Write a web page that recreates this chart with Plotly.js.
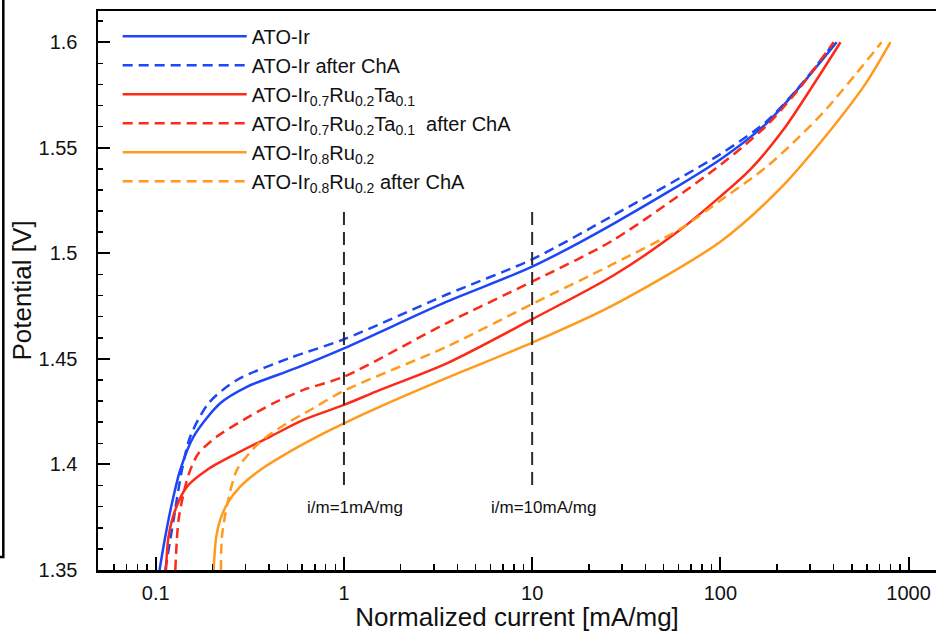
<!DOCTYPE html>
<html>
<head>
<meta charset="utf-8">
<script src="https://cdn.plot.ly/plotly-3.0.1.min.js"></script>
<style>html,body{margin:0;padding:0;background:#fff;}#chart{width:936px;height:632px;}</style>
</head>
<body>
<div id="chart"></div>
<script>
// Series names
const seriesNames = [
  "ATO-Ir",
  "ATO-Ir after ChA",
  "ATO-Ir<sub>0.7</sub>Ru<sub>0.2</sub>Ta<sub>0.1</sub>",
  "ATO-Ir<sub>0.7</sub>Ru<sub>0.2</sub>Ta<sub>0.1</sub> \u00a0after ChA",
  "ATO-Ir<sub>0.8</sub>Ru<sub>0.2</sub>",
  "ATO-Ir<sub>0.8</sub>Ru<sub>0.2</sub> after ChA"
];

// ATO-Ir
const irX = [0.1047,0.1123,0.1219,0.1349,0.1588,0.220,0.305,0.551,1.0,3.52,10,27,100,176,265,415];
const irY = [1.35,1.3658,1.3816,1.3974,1.4132,1.4290,1.4368,1.4455,1.4550,1.4771,1.4937,1.5140,1.5445,1.5616,1.5790,1.6000];
// ATO-Ir after ChA
const irChaX = [0.1123,0.1243,0.1377,0.1525,0.1907,0.270,0.518,1.0,3.52,10,27,100,176,265,405];
const irChaY = [1.35,1.3737,1.3974,1.4132,1.4290,1.4400,1.4505,1.4593,1.4805,1.4972,1.5180,1.5470,1.5625,1.5793,1.6];
// ATO-Ir0.7Ru0.2Ta0.1
const irRuTaX = [0.1133,0.1169,0.1269,0.1465,0.187,0.270,0.406,0.609,1.0,1.556,3.52,10,27,61,100,143.6,216,324,435];
const irRuTaY = [1.35,1.3658,1.3784,1.3895,1.3974,1.4053,1.4132,1.4211,1.4282,1.4353,1.4479,1.4688,1.4895,1.511,1.5269,1.5395,1.5585,1.5821,1.6];
// ATO-Ir0.7Ru0.2Ta0.1 after ChA
const irRuTaChaX = [0.127,0.1321,0.1434,0.1525,0.1688,0.2113,0.2925,0.4222,0.609,1.0,3.52,10,27,100,176,265,400];
const irRuTaChaY = [1.35,1.3737,1.3895,1.3974,1.4053,1.4132,1.4211,1.4290,1.4353,1.4416,1.467,1.4866,1.5063,1.5419,1.5605,1.5785,1.6];
// ATO-Ir0.8Ru0.2
const irRuX = [0.2028,0.2096,0.220,0.2405,0.281,0.359,0.518,0.778,1.0,1.556,3.52,10,27,100,207,398,598,802];
const irRuY = [1.35,1.3658,1.3737,1.3816,1.3895,1.3974,1.4062,1.4147,1.4195,1.4274,1.441,1.4577,1.4755,1.5055,1.5305,1.5600,1.5810,1.6];
// ATO-Ir0.8Ru0.2 after ChA
const irRuChaX = [0.222,0.2247,0.2405,0.270,0.3376,0.3896,0.4974,0.6615,1.0,3.52,10,27,61,100,176,265,367,529,719];
const irRuChaY = [1.35,1.3658,1.3816,1.3974,1.4084,1.4132,1.4195,1.4258,1.4349,1.4558,1.4760,1.4950,1.5115,1.5250,1.5410,1.5555,1.5685,1.5853,1.6];

// Reference current markers
const markerCurrents = [1, 10];
const markerLabels = ["i/m=1mA/mg", "i/m=10mA/mg"];
const markerSpan = [1.3903, 1.5215];
const markerLabelY = 1.3794;

// Axis ticks
const xTickVals = [0.1, 1, 10, 100, 1000];
const xTickText = ["0.1", "1", "10", "100", "1000"];
const xMinorVals = [0.06,0.07,0.08,0.09,0.2,0.3,0.4,0.5,0.6,0.7,0.8,0.9,2,3,4,5,6,7,8,9,20,30,40,50,60,70,80,90,200,300,400,500,600,700,800,900];
const yTickVals = [1.35, 1.4, 1.45, 1.5, 1.55, 1.6];
const yTickText = ["1.35", "1.4", "1.45", "1.5", "1.55", "1.6"];

const BLUE = "#1d46f6", RED = "#fc2a17", ORANGE = "#ff9a1c";
const seriesX = [irX, irChaX, irRuTaX, irRuTaChaX, irRuX, irRuChaX];
const seriesY = [irY, irChaY, irRuTaY, irRuTaChaY, irRuY, irRuChaY];
const colors = [BLUE, BLUE, RED, RED, ORANGE, ORANGE];
const dashes = ["solid", "10px,6px", "solid", "10px,6px", "solid", "10px,6px"];

const traces = seriesX.map((xs, i) => ({
  x: xs, y: seriesY[i], type: "scatter", mode: "lines", name: seriesNames[i],
  legendgroup: "g" + i,
  line: {color: colors[i], width: 2.5, dash: dashes[i], shape: "spline", smoothing: 0.8},
  hoverinfo: "skip"
}));

markerCurrents.forEach((c) => {
  traces.push({
    x: [c, c], y: markerSpan, type: "scatter", mode: "lines", showlegend: false,
    line: {color: "#2b2b2b", width: 2, dash: "13px,7px"}, hoverinfo: "skip"
  });
});

const FONT = "Liberation Sans, Arial, Helvetica, sans-serif";

const layout = {
  width: 936, height: 632,
  margin: {l: 98, r: 0, t: 11, b: 62},
  paper_bgcolor: "#ffffff", plot_bgcolor: "#ffffff",
  font: {family: FONT, color: "#111111", size: 20},
  showlegend: true,
  legend: {
    x: 0.0235, y: 0.9896, xanchor: "left", yanchor: "top",
    bgcolor: "rgba(0,0,0,0)", borderwidth: 0,
    font: {family: FONT, size: 20, color: "#111111"},
    itemwidth: 124, tracegroupgap: 0, itemclick: false, itemdoubleclick: false
  },
  xaxis: {
    type: "log", range: [-1.307, 3.146], autorange: false,
    showline: true, linecolor: "#000000", linewidth: 2.5, mirror: true,
    showgrid: false, zeroline: false,
    tickmode: "array", tickvals: xTickVals, ticktext: xTickText,
    ticks: "inside", ticklen: 13, tickwidth: 2, tickcolor: "#000000",
    ticklabelstandoff: 3,
    tickfont: {family: FONT, size: 20, color: "#111111"},
    minor: {tickmode: "array", tickvals: xMinorVals, ticks: "inside", ticklen: 6, tickwidth: 1.5, tickcolor: "#000000", showgrid: false},
    title: {text: "Normalized current [mA/mg]", font: {family: FONT, size: 26, color: "#111111"}, standoff: 7}
  },
  yaxis: {
    range: [1.35, 1.6148], autorange: false,
    showline: true, linecolor: "#000000", linewidth: 2.5, mirror: false,
    showgrid: false, zeroline: false,
    tickmode: "array", tickvals: yTickVals, ticktext: yTickText,
    ticks: "inside", ticklen: 12, tickwidth: 2, tickcolor: "#000000",
    ticklabelstandoff: 14,
    tickfont: {family: FONT, size: 20, color: "#111111"},
    minor: {dtick: 0.01, tick0: 1.35, ticks: "inside", ticklen: 5, tickwidth: 1.5, tickcolor: "#000000", showgrid: false},
    title: {text: "Potential [V]", font: {family: FONT, size: 26, color: "#111111"}, standoff: 0}
  },
  annotations: markerCurrents.map((c, i) => ({
    x: Math.log10(c), y: markerLabelY, xref: "x", yref: "y",
    text: markerLabels[i], showarrow: false, xshift: 11,
    font: {family: FONT, size: 17, color: "#111111"}
  })),
  shapes: [{
    type: "path", xref: "paper", yref: "paper",
    path: "M -0.121 1.03 L -0.113 1.03 L -0.113 0.0233 L -0.121 0.0233",
    line: {color: "#000000", width: 2.5}
  }]
};

Plotly.newPlot("chart", traces, layout, {staticPlot: true, displayModeBar: false});
</script>
</body>
</html>
